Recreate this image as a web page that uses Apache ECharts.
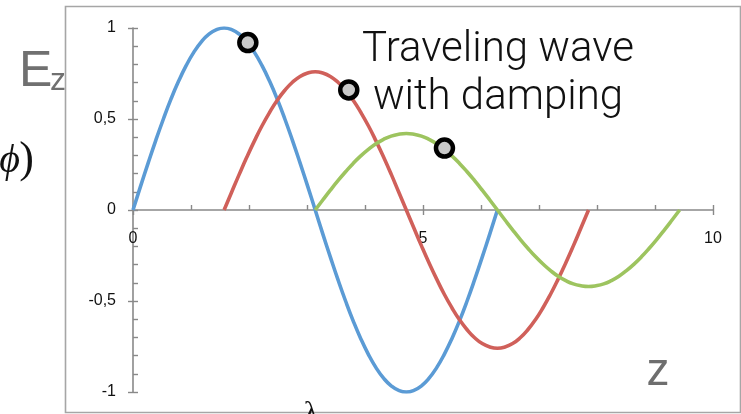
<!DOCTYPE html>
<html>
<head>
<meta charset="utf-8">
<script src="https://cdn.jsdelivr.net/npm/echarts@6/dist/echarts.min.js"></script>
<style>
  html, body { margin: 0; padding: 0; background: #fff; }
  #chart { width: 741px; height: 414px; }
</style>
</head>
<body>
<div id="chart"></div>
<script>
// Undamped wave (blue)
const blueZ = [0, 0.131, 0.262, 0.393, 0.524, 0.654, 0.785, 0.916, 1.047, 1.178, 1.309, 1.440, 1.571, 1.702, 1.833, 1.963, 2.094, 2.225, 2.356, 2.487, 2.618, 2.749, 2.880, 3.011, 3.142, 3.272, 3.403, 3.534, 3.665, 3.796, 3.927, 4.058, 4.189, 4.320, 4.451, 4.581, 4.712, 4.843, 4.974, 5.105, 5.236, 5.367, 5.498, 5.629, 5.760, 5.890, 6.021, 6.152, 6.283];
const blueE = [0, 0.131, 0.259, 0.383, 0.500, 0.609, 0.707, 0.793, 0.866, 0.924, 0.966, 0.991, 1.000, 0.991, 0.966, 0.924, 0.866, 0.793, 0.707, 0.609, 0.500, 0.383, 0.259, 0.131, 0, -0.131, -0.259, -0.383, -0.500, -0.609, -0.707, -0.793, -0.866, -0.924, -0.966, -0.991, -1.000, -0.991, -0.966, -0.924, -0.866, -0.793, -0.707, -0.609, -0.500, -0.383, -0.259, -0.131, 0];

// First damped wave (red)
const redZ = [1.571, 1.702, 1.833, 1.963, 2.094, 2.225, 2.356, 2.487, 2.618, 2.749, 2.880, 3.011, 3.142, 3.272, 3.403, 3.534, 3.665, 3.796, 3.927, 4.058, 4.189, 4.320, 4.451, 4.581, 4.712, 4.843, 4.974, 5.105, 5.236, 5.367, 5.498, 5.629, 5.760, 5.890, 6.021, 6.152, 6.283, 6.414, 6.545, 6.676, 6.807, 6.938, 7.069, 7.199, 7.330, 7.461, 7.592, 7.723, 7.854];
const redE = [0, 0.099, 0.197, 0.291, 0.380, 0.463, 0.537, 0.603, 0.658, 0.702, 0.734, 0.753, 0.760, 0.753, 0.734, 0.702, 0.658, 0.603, 0.537, 0.463, 0.380, 0.291, 0.197, 0.099, 0, -0.099, -0.197, -0.291, -0.380, -0.463, -0.537, -0.603, -0.658, -0.702, -0.734, -0.753, -0.760, -0.753, -0.734, -0.702, -0.658, -0.603, -0.537, -0.463, -0.380, -0.291, -0.197, -0.099, 0];

// Second damped wave (green)
const greenZ = [3.142, 3.272, 3.403, 3.534, 3.665, 3.796, 3.927, 4.058, 4.189, 4.320, 4.451, 4.581, 4.712, 4.843, 4.974, 5.105, 5.236, 5.367, 5.498, 5.629, 5.760, 5.890, 6.021, 6.152, 6.283, 6.414, 6.545, 6.676, 6.807, 6.938, 7.069, 7.199, 7.330, 7.461, 7.592, 7.723, 7.854, 7.985, 8.116, 8.247, 8.378, 8.508, 8.639, 8.770, 8.901, 9.032, 9.163, 9.294, 9.425];
const greenE = [0, 0.055, 0.109, 0.161, 0.210, 0.256, 0.297, 0.333, 0.364, 0.388, 0.406, 0.416, 0.420, 0.416, 0.406, 0.388, 0.364, 0.333, 0.297, 0.256, 0.210, 0.161, 0.109, 0.055, 0, -0.055, -0.109, -0.161, -0.210, -0.256, -0.297, -0.333, -0.364, -0.388, -0.406, -0.416, -0.420, -0.416, -0.406, -0.388, -0.364, -0.333, -0.297, -0.256, -0.210, -0.161, -0.109, -0.055, 0];

// Marker points riding on each wave
const markerZ = [1.98, 3.72, 5.37];
const markerE = [0.92, 0.66, 0.34];

// Axis ticks
const xTicks = [0, 5, 10];
const yTicks = [-1, -0.5, 0, 0.5, 1];

const pairs = (xs, ys) => xs.map((x, i) => [x, ys[i]]);

// Plot box in pixels; the z axis sits on E = 0, halfway down
const gridTop = 28, gridBottom = 22, gridHeight = 414 - gridTop - gridBottom;
const zeroShift = -gridHeight / 2;

const axisGray = '#898989';
const chart = echarts.init(document.getElementById('chart'), null, { renderer: 'canvas' });

const waveSeries = (name, xs, ys, color) => ({
  name, type: 'line', data: pairs(xs, ys),
  xAxisIndex: 0, yAxisIndex: 0,
  smooth: 0.5, showSymbol: false, symbol: 'none',
  lineStyle: { color, width: 3.6, cap: 'butt', join: 'round' },
  z: 3, silent: true, animation: false
});

chart.setOption({
  animation: false,
  backgroundColor: '#fff',
  grid: { left: 133, right: 28, top: gridTop, bottom: gridBottom, containLabel: false, outerBoundsMode: 'none' },
  xAxis: [
    {
      type: 'value', min: xTicks[0], max: xTicks[xTicks.length - 1], interval: xTicks[1] - xTicks[0],
      position: 'bottom', offset: zeroShift,
      axisLine: { onZero: false, lineStyle: { color: axisGray, width: 1.6 } },
      axisTick: { show: true, length: 5, lineStyle: { color: axisGray, width: 1.4 } },
      axisLabel: { color: '#111', fontSize: 16, fontFamily: 'Liberation Sans', margin: 21 },
      splitLine: { show: false }
    },
    {
      type: 'value', min: 0, max: 10, interval: 1,
      position: 'bottom', offset: zeroShift,
      axisLine: { show: false, onZero: false },
      axisTick: { show: true, inside: true, length: 5, lineStyle: { color: axisGray, width: 1.4 } },
      axisLabel: { show: false },
      splitLine: { show: false }
    }
  ],
  yAxis: [
    {
      type: 'value', min: yTicks[0], max: yTicks[yTicks.length - 1], interval: yTicks[1] - yTicks[0],
      position: 'left',
      axisLine: { show: true, onZero: false, lineStyle: { color: axisGray, width: 1.6 } },
      axisTick: { show: true, length: 5, lineStyle: { color: axisGray, width: 1.4 } },
      axisLabel: {
        color: '#111', fontSize: 16, fontFamily: 'Liberation Sans', margin: 17,
        formatter: v => String(v).replace('.', ',')
      },
      splitLine: { show: false }
    },
    {
      type: 'value', min: -1, max: 1, interval: 0.1,
      position: 'left',
      axisLine: { show: false, onZero: false },
      axisTick: { show: true, inside: true, length: 5, lineStyle: { color: axisGray, width: 1.4 } },
      axisLabel: { show: false },
      splitLine: { show: false }
    }
  ],
  series: [
    waveSeries('blue', blueZ, blueE, '#5B9BD5'),
    waveSeries('red', redZ, redE, '#D0605A'),
    waveSeries('green', greenZ, greenE, '#9DC45F'),
    {
      name: 'markers', type: 'scatter', data: pairs(markerZ, markerE),
      xAxisIndex: 0, yAxisIndex: 0,
      symbol: 'circle', symbolSize: 17,
      itemStyle: { color: '#c9c9c9', borderColor: '#000', borderWidth: 4.5, opacity: 1 },
      z: 5, silent: true
    }
  ],
  graphic: [
    {
      type: 'rect', z: 0, silent: true,
      shape: { x: 65.5, y: 6.5, width: 675, height: 406 },
      style: { fill: null, stroke: '#a6a6a6', lineWidth: 1.6 }
    },
    {
      type: 'text', z: 10, x: 498, y: 50, silent: true,
      style: { text: 'Traveling wave', fill: '#111', font: '300 42px Roboto, "Liberation Sans", sans-serif', textAlign: 'center', textVerticalAlign: 'middle' }
    },
    {
      type: 'text', z: 10, x: 498, y: 98, silent: true,
      style: { text: 'with damping', fill: '#111', font: '300 42px Roboto, "Liberation Sans", sans-serif', textAlign: 'center', textVerticalAlign: 'middle' }
    },
    {
      type: 'text', z: 10, x: 19, y: 72, silent: true,
      style: { text: 'E', fill: '#707070', font: '50px "Liberation Sans", sans-serif', textAlign: 'left', textVerticalAlign: 'middle' }
    },
    {
      type: 'text', z: 10, x: 50, y: 81, silent: true,
      style: { text: 'z', fill: '#707070', font: '32px "Liberation Sans", sans-serif', textAlign: 'left', textVerticalAlign: 'middle' }
    },
    {
      type: 'text', z: 10, x: 20, y: 161, silent: true,
      style: { text: 'ϕ', fill: '#111', font: 'italic 40px "Liberation Serif", serif', textAlign: 'right', textVerticalAlign: 'middle' }
    },
    {
      type: 'text', z: 10, x: 34, y: 160, silent: true,
      style: { text: ')', fill: '#111', font: '44px "Liberation Serif", serif', textAlign: 'right', textVerticalAlign: 'middle' }
    },
    {
      type: 'text', z: 10, x: 658, y: 372, silent: true,
      style: { text: 'z', fill: '#6e6e6e', font: '46px "Liberation Sans", sans-serif', textAlign: 'center', textVerticalAlign: 'middle' }
    },
    {
      type: 'text', z: 10, x: 311, y: 414, silent: true,
      style: { text: 'λ', fill: '#111', font: '30px "Liberation Serif", serif', textAlign: 'center', textVerticalAlign: 'middle' }
    }
  ]
});
</script>
</body>
</html>
